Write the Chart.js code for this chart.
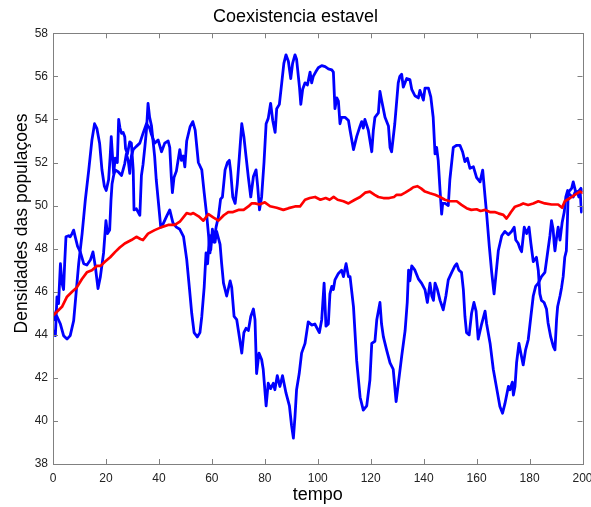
<!DOCTYPE html>
<html>
<head>
<meta charset="utf-8">
<script src="https://cdn.jsdelivr.net/npm/chart.js@4.4.1/dist/chart.umd.min.js"></script>
<style>
  html, body { margin:0; padding:0; background:#fff; }
  #wrap { width:591px; height:507px; }
</style>
</head>
<body>
<div id="wrap"><canvas id="chart" width="591" height="507"></canvas></div>
<script>
const TITLE = 'Coexistencia estavel';
const X_LABEL = 'tempo';
const Y_LABEL = 'Densidades das populaçoes';
const X_TICKS = [0,20,40,60,80,100,120,140,160,180,200];
const Y_TICKS = [38,40,42,44,46,48,50,52,54,56,58];

// population 1 (blue)
const blueAT = [0,0.6,1.5,2.8,4,5.3,6.5,7.8,8.8,9.7,11,12.2,13.5,14.7,15.7,16.6,17.6,18.5,19.4,20.1,21,21.6,22,22.9,23.5,24.3,24.8,25.3,25.9,26.5,27.1,27.4,28.1,29,29.6,30.3,30.6,31.5,32.8,33.4,34,34.7,35.3,35.9,36.5,37.2,38.4,39,39.7,40.7,41.6,42.9,44.1,45.3,46.6,47.9,49.3,50.5,51.5,52.4,53.3,54.5,55.5,56.2,57.1,57.8,58.4,59.1,59.6,60.2,60.8,61.6,62.5,63.3,64,65,65.9,66.6,67.1,67.9,68.8,69.6,70.4,71.3,72.1,72.9,73.8,74.7,75.7,76.7,77.3,78,78.8,79.7,80.5,81.3,82.2,83,83.9,84.5,85.5,86.4,87.2,88,88.9,89.8,90.5,91.4,92,93.1,93.6,94.3,95.2,96.1,97.1,97.7,98.3,99.2,100.2,101.5,102.8,104,105.3,105.9,106.5,107.2,107.8,108.4,109,110.3,111.6,112.2,113.5,114.7,116,116.6,117.2,117.8,119.1,120.4,121,121.6,122.9,123.5,124.1,125.4,126.7,127.3,127.9,129.1,130.4,131,131.7,132.3,133.6,134.8,135.5,136.7,138,138.6,139.9,140.5,141.8,142.7,143.6,144.3,144.9,145.5,146.2,146.8,147.2,148.1,149.3,149.9,151.2,152.5,153.7,154.7,155.6,156.5,157.5,158.8,160,161.3,162.3,163.2,163.8,164.8,165.7,166.6,167.4,168.2,169.5,170.7,172,173.2,174.2,174.8,175.7,176.4,177,178,178.9,179.8,180.5,181.4,182.6,183.3,183.9,184.5,185.5,186.4,187,188,189,189.6,190.2,190.6,191.5,192.1,192.7,193.3,193.9,194.3,194.6,195.2,195.9,196.5,197.4,198.1,198.6,199.1,199.6,200];
const blueAV = [45.1,44.7,44.85,44.5,43.96,43.8,43.96,44.65,46.04,47.3,48.7,50.25,51.65,53.04,53.8,53.57,52.9,51.65,50.9,50.7,51.2,52.3,53.2,51.5,52.2,52,54,53.6,53.35,53.4,53.2,52.65,52.4,52.96,52.9,51.65,49.8,49.85,49.55,51.4,51.9,52.73,53.5,54.75,54.1,53.7,52.27,51.2,50.3,49,49.15,49.5,49.8,49.2,49,48.9,48.56,47.5,46.2,45,44.1,43.9,44.1,44.85,46.2,47.8,47.3,48.6,47.95,48.9,48.3,49,49.5,50.3,50.4,51.66,52,52.1,51.6,50.4,50.1,51,52.3,53.8,53.2,52.3,51.3,50.4,51.35,51.66,50.9,49.8,50.4,52,53.8,54.05,54.75,53.95,53.4,54.5,54.7,55.7,56.6,57,56.7,55.9,56.6,57,56.8,55.5,54.7,55.4,55.7,55.6,56.2,55.7,56,56.2,56.4,56.5,56.45,56.35,56.3,56.2,54.5,55,54.85,53.8,54.1,54.1,53.95,53.5,52.6,53.2,53.7,53.9,53.6,54,53.5,52.5,53.5,54.1,54.3,55.3,54.9,54.1,53.7,52.7,52.5,53.8,55.7,56,56.1,55.5,55.9,55.85,55.4,55.1,55,55.35,54.9,55.45,55.45,55.05,54.1,52.4,52.7,52.1,50.7,49.6,50.1,50.1,50,51.2,52.7,52.8,52.8,52.5,52.04,52.2,51.73,51.8,51.3,51.1,51.65,50.4,49.6,48.1,46.9,45.9,46.9,47.9,48.6,48.8,48.65,48.8,49,48.4,48.25,48,47.86,49,48.7,49,48.25,47.4,47.6,47,45.9,45.6,45.5,45.2,44.55,43.9,43.45,43.3,44.7,45.3,45.8,46.2,46.7,47.6,47.9,49.3,50.6,50.7,50.8,51.1,50.65,50.65,50.4,50.7,49.7,49.9];

// population 2 (blue)
const blueBT = [0,0.9,1.5,2.1,2.8,3.4,4,4.4,4.9,5.9,6.5,7.2,7.8,8.4,9.3,10.3,11.6,12.8,14.1,15.1,16,17,17.9,19.1,20,20.6,21.4,21.9,22.3,22.9,23.5,24.6,25.9,27.1,27.7,28.4,29,29.6,30.3,31.5,32.8,34,35.3,36.5,37.2,38.4,39.7,41,42.2,43.5,44.1,44.7,45.1,45.7,46.6,47.9,48.5,49.2,49.8,50.5,51.8,52.8,53.7,54.9,56.2,57.1,58.1,58.7,59.3,59.9,60.6,61.2,61.8,63.1,63.7,64.4,65.6,66.9,67.5,68.4,69.4,70.4,71.3,72.1,72.9,73.8,74.7,75.7,76.3,76.9,77.8,78.8,79.4,80.5,81.3,82.2,83.2,83.8,84.7,85.7,86.7,88,89.3,90.1,90.8,91.4,92,93,93.9,95.2,96.4,97.7,98.9,100.6,101.5,102.4,103.1,104,104.6,105.3,105.9,106.5,107.8,109,109.7,110.7,111.6,112.2,113.5,114.7,116,117.2,118.5,119.7,120.4,121.6,122.3,123.5,124.1,124.8,126,127.3,128.5,129.6,130.4,131.7,133,133.8,134.3,134.8,135.5,136.7,138,139.2,140.5,141.4,142.4,143.1,143.7,144.3,145.2,146.2,147.4,148.4,149.3,150.6,151.8,152.5,153.3,154.3,155,155.6,156.2,157.2,158.1,159,159.8,160.6,161.9,163.2,163.8,165.1,166.3,167.6,168.8,169.8,170.7,172,172.6,173.5,173.9,174.5,175.1,176,176.7,177.6,178.5,179.5,180.5,181.4,182.3,183.3,184.5,185.8,186.8,187.7,188.3,188.9,189.3,189.6,190.2,190.8,191.5,192.3,193.1,193.7,194.4,195.2,196.5,197.1,198.4,199.4,200];
const blueBV = [44.2,43.96,45.76,45.45,47.3,46.4,46.1,47.3,48.55,48.6,48.55,48.7,48.86,48.55,48.1,47.85,47.3,47.24,47.47,47.85,47.16,46.15,46.7,47.8,49.3,48.7,48.86,50.25,51,51.4,51.65,51.57,51.4,51.95,52.4,52.1,51.5,52.3,52.6,52.75,52.9,53.35,53.8,53.6,53.3,52.9,53.05,52.5,52.9,53,52.7,51.3,50.6,51.3,51.6,52.6,52.1,52.3,51.8,53,53.67,53.9,53.5,52,51.66,50.6,49.5,48.7,47.8,48.6,48.8,48.3,48.8,48.2,47.3,46.4,45.8,46.5,46.2,44.85,44.7,43.9,43.15,44.1,44.3,44.2,44.85,45.2,44.7,42.2,43.15,42.85,42.4,40.7,41.75,41.5,41.75,41.45,42.1,41.6,42.1,41.3,40.7,39.8,39.2,40.2,41.45,42.2,43.15,43.6,44.6,44.45,44.5,44.1,44.7,46.4,44.4,44.5,45.9,46.25,46.1,46.55,46.85,47,46.7,47.3,46.7,46.7,45.3,42.8,41.1,40.5,40.7,41.9,43.6,43.7,44.7,45.5,44.5,43.9,43.3,42.7,42.4,40.9,41.7,43,44.2,45.5,47,46.5,47.2,47,46.6,46.4,46.1,45.5,46.4,45.8,45.6,46.4,46.1,45.6,45.16,45.8,46.55,46.9,47.2,47.3,47,46.9,46.1,44.85,44.1,44,45,45.5,45.1,43.8,44.5,45.1,44.5,43.6,42.4,41.5,40.67,40.36,40.8,41.6,41.45,41.8,41.2,41.6,42.7,43.6,43.15,42.6,43.3,43.77,44.85,45.8,46.25,46.4,46.7,46.9,47.8,48.6,49.3,48.9,48.25,47.9,48.5,49,48.4,49.2,49.7,50.4,50.7,50.5,50.4,50.6,50.65,50.8,50.7];

// total / mean (red)
const redT = [0,1.5,3.4,5.3,7.2,9,11,12.8,14.7,16.6,18,19.7,21.6,23.5,25.2,27.1,29.6,31.5,33,34,35.9,38.4,41,43.5,46,47.9,50.5,52,53,55,56.8,58.7,60.5,62.5,64.5,66.2,68,70,72,73.8,75,76.3,78,80,82,84.5,87,89,91.4,93.3,95.2,97,99,101,103,104.5,106,107.5,109.7,111.6,114,116,117.9,119.7,121.5,122.9,124.8,127,128.8,129.8,131.5,133,135,136.1,137.6,139,140.5,142.4,144.3,146.2,148,150,152.5,154.3,156.2,158,160,161.5,163.2,165,166.8,168.2,170.1,171.3,172.2,173,174.5,176.4,177.6,179.5,181.4,183.3,185.8,188.3,190.8,192.3,193.3,195.2,197.1,199,200];
const redV = [44.9,45.07,45.3,45.77,46,46.2,46.6,46.9,47,47.2,47.2,47.4,47.6,47.85,48.05,48.24,48.4,48.55,48.45,48.4,48.7,48.86,49,49.1,49.1,49.25,49.65,49.6,49.65,49.5,49.3,49.6,49.45,49.3,49.55,49.7,49.7,49.8,49.8,49.96,50.1,50.1,50.05,50.15,49.97,49.9,49.8,49.88,49.96,49.96,50.27,50.35,50.4,50.27,50.35,50.27,50.4,50.27,50.2,50.1,50.27,50.4,50.6,50.65,50.5,50.4,50.35,50.35,50.4,50.5,50.5,50.6,50.75,50.85,50.9,50.8,50.65,50.57,50.5,50.4,50.27,50.2,50.2,50.03,49.88,49.8,49.83,49.75,49.8,49.7,49.7,49.64,49.57,49.4,49.55,49.7,49.95,50.03,50.1,50.03,50.1,50.2,50.1,50.05,50.05,49.9,50.2,50.34,50.5,50.65,50.6];

const pts = (ts, vs) => ts.map((t,i)=>({x:t, y:vs[i]}));
const FONT = '"Liberation Sans", Arial, Helvetica, sans-serif';

// matlab style box with inward ticks + rotated y label
const boxPlugin = {
  id: 'box',
  afterDatasetsDraw(chart) {
    const {ctx, chartArea:a, scales:{x, y}} = chart;
    ctx.save();
    ctx.strokeStyle = '#808080';
    ctx.lineWidth = 1;
    ctx.strokeRect(Math.round(a.left)+0.5, Math.round(a.top)+0.5, Math.round(a.right-a.left), Math.round(a.bottom-a.top));
    ctx.beginPath();
    X_TICKS.forEach(v => {
      const px = Math.round(x.getPixelForValue(v))+0.5;
      ctx.moveTo(px, a.bottom); ctx.lineTo(px, a.bottom-5);
      ctx.moveTo(px, a.top); ctx.lineTo(px, a.top+5);
    });
    Y_TICKS.forEach(v => {
      const py = Math.round(y.getPixelForValue(v))+0.5;
      ctx.moveTo(a.left, py); ctx.lineTo(a.left+5, py);
      ctx.moveTo(a.right, py); ctx.lineTo(a.right-5, py);
    });
    ctx.stroke();
    ctx.restore();
  },
  afterDraw(chart) {
    const ctx = chart.ctx;
    ctx.save();
    ctx.translate(26.5, 223.5);
    ctx.rotate(-Math.PI/2);
    ctx.fillStyle = '#000';
    ctx.font = '17.5px ' + FONT;
    ctx.textAlign = 'center';
    ctx.textBaseline = 'alphabetic';
    ctx.fillText(Y_LABEL, 0, 0);
    ctx.restore();
  }
};

new Chart(document.getElementById('chart'), {
  type: 'line',
  data: { datasets: [
    {label:'total', data:pts(redT, redV), borderColor:'#ff0000', borderWidth:2.7},
    {label:'pop1', data:pts(blueAT, blueAV), borderColor:'#0000ff', borderWidth:2.8},
    {label:'pop2', data:pts(blueBT, blueBV), borderColor:'#0000ff', borderWidth:2.8}
  ]},
  options: {
    responsive:false, animation:false,
    parsing:false,
    elements:{ point:{radius:0}, line:{tension:0, borderJoinStyle:'round', borderCapStyle:'round', fill:false} },
    layout:{ padding:0 },
    plugins:{
      legend:{display:false}, tooltip:{enabled:false},
      title:{display:true, text:TITLE, color:'#000', font:{family:FONT, size:18, weight:'normal'}, padding:{top:6.3, bottom:5.4}}
    },
    scales:{
      x:{ type:'linear', min:0, max:200,
          afterFit(s){ s.height = 43; s.paddingRight = 8.5; },
          grid:{display:false, drawTicks:false}, border:{display:false},
          ticks:{ stepSize:20, autoSkip:false, maxRotation:0, padding:7, color:'#222', font:{family:FONT, size:12} },
          title:{display:true, text:X_LABEL, color:'#000', font:{family:FONT, size:18}, padding:{top:0, bottom:1.5}} },
      y:{ type:'linear', min:38, max:58,
          afterFit(s){ s.width = 53; },
          grid:{display:false, drawTicks:false}, border:{display:false},
          ticks:{ stepSize:2, padding:5, color:'#222', font:{family:FONT, size:12} } }
    }
  },
  plugins:[boxPlugin]
});
</script>
</body>
</html>
